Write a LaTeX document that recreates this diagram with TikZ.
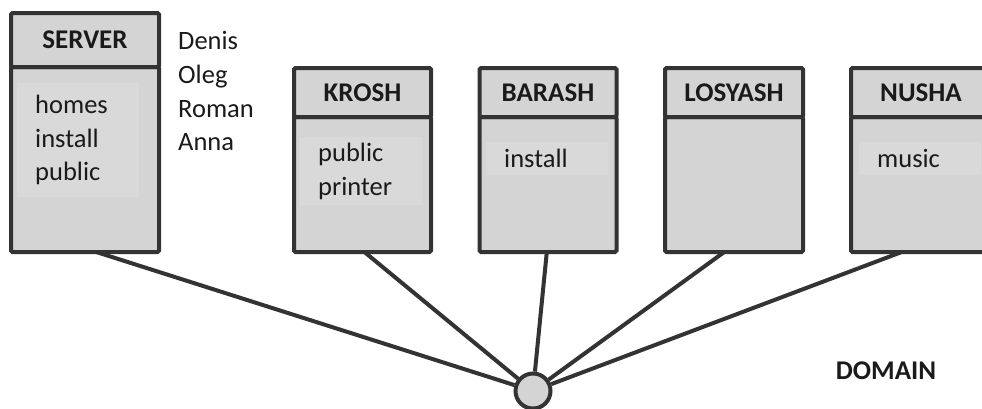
\documentclass[tikz,border=0pt]{standalone}
\usepackage{fontspec}
\setmainfont{Carlito}
\definecolor{edge}{HTML}{333333}
\definecolor{boxfill}{HTML}{D4D4D4}
\definecolor{panelfill}{HTML}{D9D9D9}
\definecolor{ink}{HTML}{1A1A1A}
\tikzset{
  part/.style={draw=edge, fill=boxfill, line width=4pt, rounded corners=1.5pt,
    anchor=north west, inner sep=0pt, text=ink},
  head/.style={part, font=\fontsize{27}{30}\selectfont\bfseries},
  panel/.style={fill=panelfill, anchor=north west, inner xsep=18pt, inner ysep=0pt,
    align=left, text=ink, font=\fontsize{26.5}{33.5}\selectfont},
  names/.style={anchor=north west, align=left, inner sep=0pt, text=ink,
    font=\fontsize{26.5}{33.8}\selectfont},
  link/.style={draw=edge, line width=4pt},
  hubnode/.style={circle, draw=edge, fill=boxfill, line width=4pt, minimum size=35pt, inner sep=0pt}
}
\begin{document}
\begin{tikzpicture}[x=1pt, y=-1pt]
\useasboundingbox (0,0) rectangle (982,408);

% feet of the connectors on the lower edges of the machines
\coordinate (srvfoot) at (90,250);
\coordinate (krofoot) at (362,250);
\coordinate (barfoot) at (547,250);
\coordinate (losfoot) at (727,250);
\coordinate (nusfoot) at (907,250);

% hub of the domain
\node[hubnode] (hub) at (533,391) {};

% connectors, drawn beneath the machines
\foreach \f in {srvfoot,krofoot,barfoot,losfoot,nusfoot}
  \draw[link] (\f) -- (hub);

% SERVER
\node[part, minimum width=148pt, minimum height=185pt] (srvb) at (9,65) {};
\node[head, minimum width=148pt, minimum height=54pt] (srvh) at (9,11) {SERVER};
\node[panel, text width=86pt, minimum width=122pt, minimum height=114pt] (srvp) at (17,83)
  {homes\\install\\public};
\node[names] (users) at (178,31) {Denis\\Oleg\\Roman\\Anna};

% KROSH
\node[part, minimum width=137pt, minimum height=135pt] (krob) at (292,115) {};
\node[head, minimum width=137pt, minimum height=49pt] (kroh) at (292,66) {KROSH};
\node[panel, text width=86pt, minimum width=122pt, minimum height=68pt] (krop) at (300,137)
  {public\\printer};

% BARASH
\node[part, minimum width=137pt, minimum height=135pt] (barb) at (477.5,115) {};
\node[head, minimum width=137pt, minimum height=49pt] (barh) at (477.5,66) {BARASH};
\node[panel, text width=86pt, minimum width=122pt, minimum height=33pt] (barp) at (486,142)
  {install};

% LOSYASH
\node[part, minimum width=138pt, minimum height=135pt] (losb) at (663,115) {};
\node[head, minimum width=138pt, minimum height=49pt] (losh) at (663,66) {LOSYASH};

% NUSHA
\node[part, minimum width=140pt, minimum height=135pt] (nusb) at (849,115) {};
\node[head, minimum width=140pt, minimum height=49pt] (nush) at (849,66) {NUSHA};
\node[panel, text width=86pt, minimum width=122pt, minimum height=33pt] (nusp) at (859,142)
  {music};

% domain label
\node[font=\fontsize{27}{30}\selectfont\bfseries, text=ink] (domain) at (886,371) {DOMAIN};
\end{tikzpicture}
\end{document}
